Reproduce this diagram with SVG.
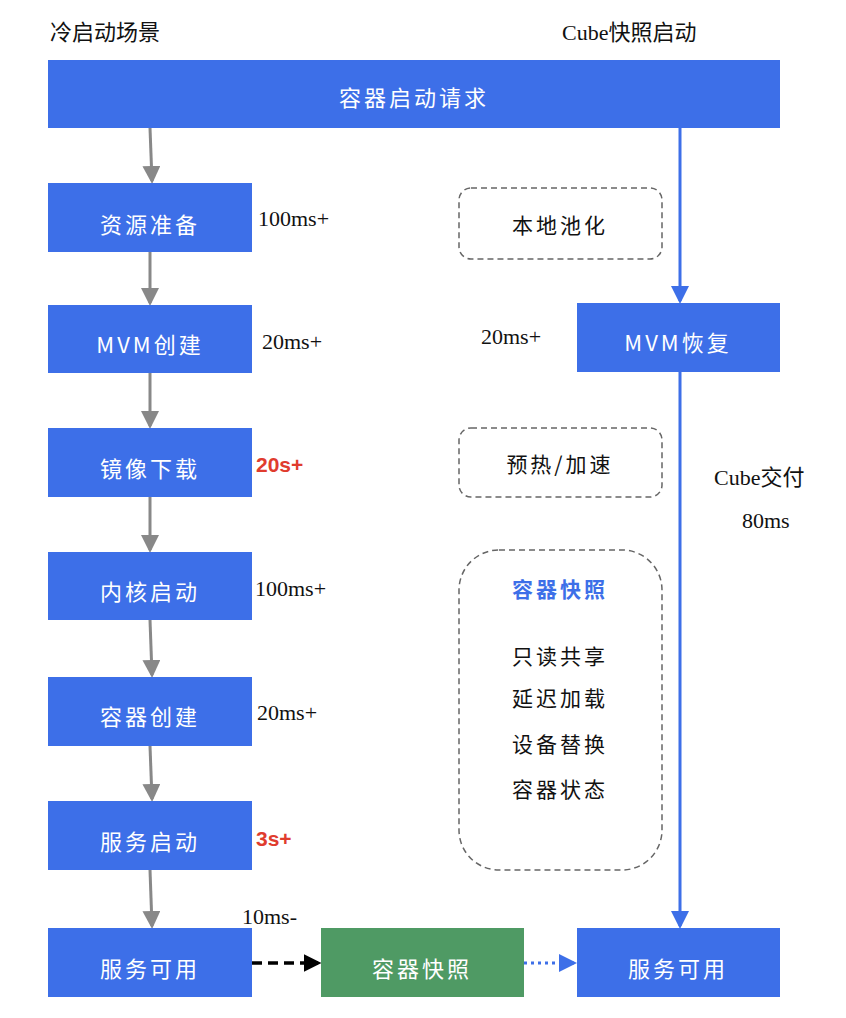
<svg xmlns="http://www.w3.org/2000/svg" width="846" height="1018" viewBox="0 0 846 1018">
<style>
.b{fill:#3d6fe8}
.t{font-family:"Noto Sans CJK SC","Liberation Serif",sans-serif;font-size:22px;fill:#fff;text-anchor:middle;letter-spacing:3px}
.l{font-family:"Liberation Serif","Noto Sans CJK SC",serif;font-size:22px;fill:#111}
.d{fill:none;stroke:#666;stroke-width:1.5;stroke-dasharray:6 4}
.k{font-family:"Noto Sans CJK SC",sans-serif;font-size:21px;fill:#111;text-anchor:middle;letter-spacing:3px}
.r{font-family:"Liberation Sans",sans-serif;font-size:21px;font-weight:bold;fill:#e03c2e}
.g{stroke:#888;stroke-width:3;fill:none}
</style>
<defs>
<marker id="ag" markerWidth="6" markerHeight="6" refX="5" refY="3" orient="auto" markerUnits="strokeWidth"><path d="M0,0L6,3L0,6z" fill="#888"/></marker>
<marker id="ab" markerWidth="6" markerHeight="6" refX="5" refY="3" orient="auto" markerUnits="strokeWidth"><path d="M0,0L6,3L0,6z" fill="#3d6fe8"/></marker>
<marker id="ak" markerWidth="5" markerHeight="5" refX="4" refY="2.5" orient="auto" markerUnits="strokeWidth"><path d="M0,0L5,2.5L0,5z" fill="#000"/></marker>
</defs>
<text class="l" x="50" y="40" style="font-family:'Noto Sans CJK SC',sans-serif">冷启动场景</text>
<text class="l" x="562" y="40">Cube<tspan style="font-family:'Noto Sans CJK SC',sans-serif">快照启动</tspan></text>
<g id="connectors">
<path class="g" d="M150 128L152 181" marker-end="url(#ag)"/>
<path class="g" d="M150 252L150 303" marker-end="url(#ag)"/>
<path class="g" d="M150 373L150 426" marker-end="url(#ag)"/>
<path class="g" d="M150 497L150 550" marker-end="url(#ag)"/>
<path class="g" d="M150 620L152 675" marker-end="url(#ag)"/>
<path class="g" d="M150 746L152 799" marker-end="url(#ag)"/>
<path class="g" d="M150 870L152 926" marker-end="url(#ag)"/>
<path d="M680 128L680 301" stroke="#3d6fe8" stroke-width="3" marker-end="url(#ab)"/>
<path d="M680 372L680 926" stroke="#3d6fe8" stroke-width="3" marker-end="url(#ab)"/>
<path d="M252 963L318 963" stroke="#000" stroke-width="3.5" stroke-dasharray="10 6" marker-end="url(#ak)"/>
<path d="M524 963L574 963" stroke="#3d6fe8" stroke-width="3" stroke-dasharray="3 4" marker-end="url(#ab)"/>
</g>
<g id="top"><rect class="b" x="48" y="60" width="732" height="68"/><text class="t" x="414" y="106">容器启动请求</text></g>
<g id="n1"><rect class="b" x="48" y="183" width="204" height="69"/><text class="t" x="150" y="233">资源准备</text></g>
<g id="n2"><rect class="b" x="48" y="305" width="204" height="68"/><text class="t" x="150" y="353">MVM创建</text></g>
<g id="n3"><rect class="b" x="48" y="428" width="204" height="69"/><text class="t" x="150" y="477">镜像下载</text></g>
<g id="n4"><rect class="b" x="48" y="552" width="204" height="68"/><text class="t" x="150" y="600">内核启动</text></g>
<g id="n5"><rect class="b" x="48" y="677" width="204" height="69"/><text class="t" x="150" y="725">容器创建</text></g>
<g id="n6"><rect class="b" x="48" y="801" width="204" height="69"/><text class="t" x="150" y="850">服务启动</text></g>
<g id="n7"><rect class="b" x="48" y="928" width="204" height="69"/><text class="t" x="150" y="977">服务可用</text></g>
<g id="n8"><rect x="321" y="928" width="203" height="69" fill="#4f9a64"/><text class="t" x="422" y="977">容器快照</text></g>
<g id="n9"><rect class="b" x="577" y="928" width="203" height="69"/><text class="t" x="678" y="977">服务可用</text></g>
<g id="n10"><rect class="b" x="577" y="303" width="203" height="69"/><text class="t" x="678" y="351">MVM恢复</text></g>
<g id="p1"><rect class="d" x="459" y="188" width="203" height="71" rx="12"/><text class="k" x="560" y="233">本地池化</text></g>
<g id="p2"><rect class="d" x="459" y="428" width="203" height="69" rx="12"/><text class="k" x="560" y="472">预热/加速</text></g>
<g id="p3"><rect class="d" x="459" y="550" width="203" height="320" rx="40"/>
<text class="k" x="560" y="597" style="fill:#3d6fe8;font-weight:bold">容器快照</text>
<text class="k" x="560" y="664">只读共享</text>
<text class="k" x="560" y="706">延迟加载</text>
<text class="k" x="560" y="752">设备替换</text>
<text class="k" x="560" y="797">容器状态</text></g>
<g id="labels">
<text class="l" x="258" y="226">100ms+</text>
<text class="l" x="262" y="349">20ms+</text>
<text class="r" x="256" y="472">20s+</text>
<text class="l" x="255" y="596">100ms+</text>
<text class="l" x="257" y="720">20ms+</text>
<text class="r" x="256" y="846">3s+</text>
<text class="l" x="242" y="924">10ms-</text>
<text class="l" x="481" y="344">20ms+</text>
<text class="l" x="714" y="485">Cube<tspan style="font-family:'Noto Sans CJK SC',sans-serif">交付</tspan></text>
<text class="l" x="742" y="528">80ms</text>
</g>
</svg>
